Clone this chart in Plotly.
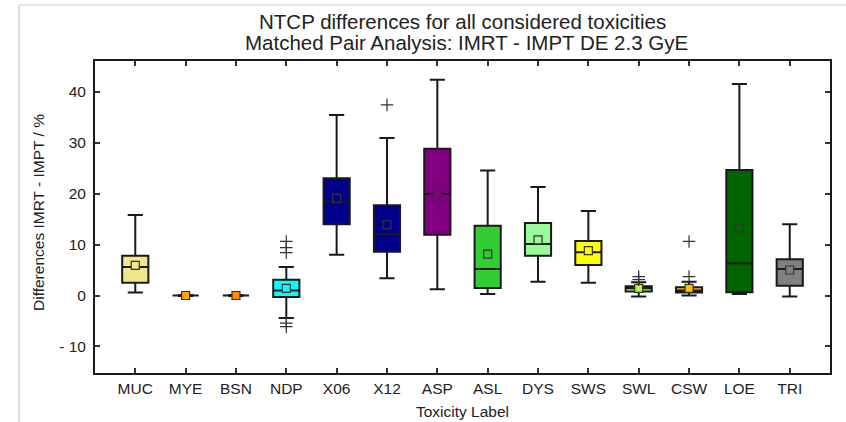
import plotly.graph_objects as go

categories = ["MUC", "MYE", "BSN", "NDP", "X06", "X12", "ASP", "ASL", "DYS", "SWS", "SWL", "CSW", "LOE", "TRI"]
lower_fence = [0.6, -0.1, -0.1, -4.4, 8.0, 3.4, 1.25, 0.3, 2.7, 2.5, -0.2, 0.0, 0.3, -0.2]
q1 = [2.5, 0.0, 0.0, -0.3, 14.0, 8.6, 11.9, 1.45, 7.8, 6.0, 0.8, 0.6, 0.65, 1.9]
median = [5.6, 0.0, 0.0, 1.0, 18.4, 12.0, 19.9, 5.2, 10.1, 8.5, 1.4, 1.0, 6.35, 5.2]
q3 = [7.8, 0.0, 0.0, 3.1, 23.0, 17.7, 28.8, 13.7, 14.2, 10.7, 1.8, 1.6, 24.6, 7.1]
upper_fence = [15.8, 0.1, 0.1, 5.6, 35.4, 30.9, 42.3, 24.5, 21.3, 16.6, 2.6, 2.7, 41.5, 14.0]
means = [5.9, 0.0, 0.0, 1.4, 19.1, 13.9, 20.0, 8.1, 10.9, 8.8, 1.4, 1.4, 13.2, 5.0]
outlier_cat = ["NDP", "NDP", "NDP", "NDP", "NDP", "X12", "SWL", "SWL", "CSW", "CSW"]
outlier_val = [10.6, 9.4, 8.4, -5.4, -6.1, 37.4, 3.7, 3.1, 10.6, 3.7]
fill_colors = ["#F0E68C", "#FFA500", "#FF8C00", "#00FFFF", "#00008B", "#00008B", "#800080",
               "#32CD32", "#98FB98", "#FFFF00", "#ADFF2F", "#FFC000", "#006400", "#808080"]
y_tickvals = [-10, 0, 10, 20, 30, 40]
y_ticktext = ["- 10", "0", "10", "20", "30", "40"]
title_lines = ["NTCP differences for all considered toxicities",
               "Matched Pair Analysis: IMRT - IMPT DE 2.3 GyE"]

FONT = "Liberation Sans, Arial, sans-serif"

fig = go.Figure()
for i, c in enumerate(categories):
    fig.add_trace(go.Box(
        x=[c], q1=[q1[i]], median=[median[i]], q3=[q3[i]],
        lowerfence=[lower_fence[i]], upperfence=[upper_fence[i]],
        fillcolor=fill_colors[i], line=dict(color="#1a1a1a", width=2),
        width=0.52, whiskerwidth=0.58, boxpoints=False, showlegend=False,
        hoverinfo="skip",
    ))

fig.add_trace(go.Scatter(
    x=categories, y=means, mode="markers", showlegend=False,
    marker=dict(symbol="square", size=8, color=fill_colors,
                line=dict(color="#333333", width=1.2)),
))
fig.add_trace(go.Scatter(
    x=outlier_cat, y=outlier_val, mode="markers", showlegend=False,
    marker=dict(symbol="cross-thin", size=9,
                line=dict(color="#333333", width=1.2)),
))

axis_common = dict(showline=True, linecolor="#1a1a1a", linewidth=2, mirror="allticks",
                   ticks="inside", ticklen=5, tickwidth=1.5, tickcolor="#333333",
                   showgrid=False, zeroline=False,
                   tickfont=dict(family=FONT, size=15.5, color="#222222"))

fig.update_layout(
    width=846, height=422,
    margin=dict(l=95, r=16, t=61, b=49),
    paper_bgcolor="white", plot_bgcolor="white",
    font=dict(family=FONT, color="#222222"),
    xaxis=dict(type="category", categoryorder="array", categoryarray=categories,
               range=[-0.8, 13.8], **axis_common),
    yaxis=dict(range=[-15.2, 46.0], tickvals=y_tickvals, ticktext=y_ticktext,
               ticklabelstandoff=4, **axis_common),
    annotations=[
        dict(text=title_lines[0], x=0.5, xref="paper", y=1.126, yref="paper",
             xanchor="center", yanchor="middle", showarrow=False,
             font=dict(size=20.5, color="#222222")),
        dict(text=title_lines[1], x=0.505, xref="paper", y=1.0577, yref="paper",
             xanchor="center", yanchor="middle", showarrow=False,
             font=dict(size=20.5, color="#222222")),
        dict(text="Differences IMRT - IMPT / %", textangle=-90, x=-0.0776, xref="paper",
             y=0.516, yref="paper", xanchor="center", yanchor="middle", showarrow=False,
             font=dict(size=15.5, color="#222222")),
        dict(text="Toxicity Label", x=0.5, xref="paper", y=-0.122, yref="paper",
             xanchor="center", yanchor="middle", showarrow=False,
             font=dict(size=15.5, color="#222222")),
    ],
    shapes=[
        dict(type="line", xref="paper", yref="paper", x0=-0.1034, x1=1.03, y0=1.1795, y1=1.1795,
             line=dict(color="#e8e8e8", width=2)),
        dict(type="line", xref="paper", yref="paper", x0=-0.1034, x1=-0.1034, y0=1.1795, y1=-0.16,
             line=dict(color="#d4d4d4", width=1.5)),
    ],
)

fig.write_html("out.html", config={"displayModeBar": False},
               post_script="document.body.style.margin='0';")
